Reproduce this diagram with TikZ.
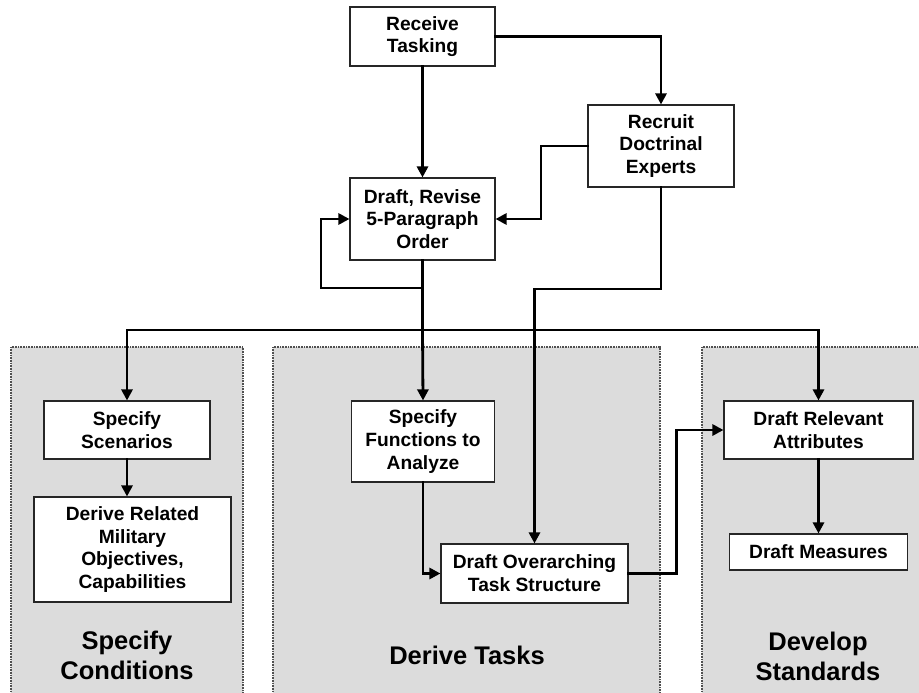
\documentclass[tikz,border=0pt]{standalone}
\usepackage{fontspec}
\setmainfont{Liberation Sans}
\usetikzlibrary{arrows.meta}
\definecolor{panelgray}{HTML}{DCDCDC}
\definecolor{paneledge}{HTML}{505050}
\begin{document}
\begin{tikzpicture}[x=1pt,y=-1pt,
  box/.style={draw=black!85,line width=1.1pt,fill=white,inner sep=0pt,align=center,
    font=\fontsize{19.2}{22.8}\selectfont\bfseries},
  title/.style={inner sep=0pt,align=center,font=\fontsize{25.5}{30}\selectfont\bfseries},
  conn/.style={line width=2.8pt,line cap=rect},
  arr/.style={conn,-{Triangle[length=11pt,width=11pt]}},
  paneledge/.style={draw=paneledge,line width=1.3pt,dash pattern=on 1pt off 0.6pt}]
\useasboundingbox (0,0) rectangle (919,693);
% panels
\fill[panelgray] (11,347) rectangle (243,700);
\fill[panelgray] (273,347) rectangle (660,700);
\fill[panelgray] (702,347) rectangle (925,700);
\draw[paneledge] (11,700) -- (11,347) -- (243,347) -- (243,700);
\draw[paneledge] (273,700) -- (273,347) -- (660,347) -- (660,700);
\draw[paneledge] (702,700) -- (702,347) -- (925,347);
% titles
\node[title] (tc) at (127,655) {Specify\\Conditions};
\node[title] (tt) at (467,655) {Derive Tasks};
\node[title] (ts) at (818,656) {Develop\\Standards};
% boxes
\node[box,minimum width=145pt,minimum height=59pt] (rt) at (422.5,36.5) {Receive\\Tasking};
\node[box,minimum width=146pt,minimum height=82pt] (rde) at (661,146) {Recruit\\Doctrinal\\Experts};
\node[box,minimum width=145pt,minimum height=82pt] (dr) at (422.5,219) {Draft, Revise\\5-Paragraph\\Order};
\node[box,minimum width=166pt,minimum height=58pt] (ss) at (127,430) {Specify\\Scenarios};
\node[box,minimum width=197pt,minimum height=105pt] (drm) at (132.5,549.5) {Derive Related\\Military\\Objectives,\\Capabilities};
\node[box,minimum width=143pt,minimum height=81pt] (sf) at (423,441.5) {Specify\\Functions to\\Analyze};
\node[box,minimum width=187pt,minimum height=59pt] (dot) at (534.5,573.5) {Draft Overarching\\Task Structure};
\node[box,minimum width=189pt,minimum height=58pt] (dra) at (818.5,430) {Draft Relevant\\Attributes};
\node[box,minimum width=178pt,minimum height=36pt] (dm) at (818.5,552) {Draft Measures};
% coordinates
\coordinate (busL) at (127,330);
\coordinate (busM) at (422.5,330);
\coordinate (busR) at (818.5,330);
\coordinate (fb) at (422.5,288);
\coordinate (fbc) at (321,288);
\coordinate (rc) at (661,289);
\coordinate (rl) at (541,146);
\coordinate (oc) at (676.5,573.5);
% connectors
\draw[arr] (rt.south) -- (dr.north);
\draw[arr] (rt.east) -| (rde.north);
\draw[arr] (rde.west) -- (rl) |- (dr.east);
\draw[conn] (dr.south) -- (busM);
\draw[arr] (fb) -- (fbc) |- (dr.west);
\draw[conn] (busL) -- (busR);
\draw[arr] (busL) -- (ss.north);
\draw[arr] (busM) -- (sf.north);
\draw[arr] (busR) -- (dra.north);
\draw[arr] (rde.south) -- (rc) -| (dot.north);
\draw[arr] (sf.south) |- (dot.west);
\draw[arr] (dot.east) -- (oc) |- (dra.west);
\draw[arr] (ss.south) -- (ss.south |- drm.north);
\draw[arr] (dra.south) -- (dm.north);
\end{tikzpicture}
\end{document}
